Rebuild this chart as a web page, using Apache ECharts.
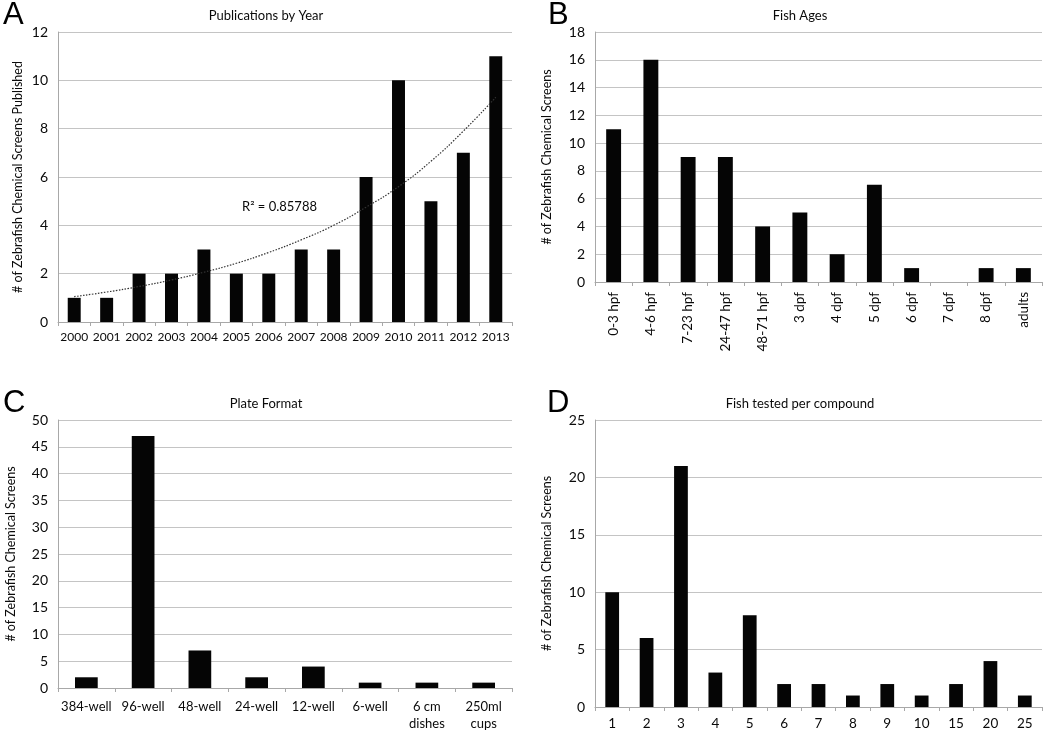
<!DOCTYPE html>
<html>
<head>
<meta charset="utf-8">
<script src="https://cdn.jsdelivr.net/npm/echarts@6/dist/echarts.min.js"></script>
<style>
  html, body { margin: 0; padding: 0; background: #fff; }
  #chart { width: 1050px; height: 732px; }
</style>
</head>
<body>
<div id="chart"></div>
<script>
// panel A - publications by year
const years = ['2000', '2001', '2002', '2003', '2004', '2005', '2006', '2007', '2008', '2009', '2010', '2011', '2012', '2013']
const pubCounts = [1, 1, 2, 2, 3, 2, 2, 3, 3, 6, 10, 5, 7, 11]
// exponential trendline
const pubTrend = [1.05, 1.24, 1.47, 1.74, 2.06, 2.43, 2.88, 3.4, 4.0, 4.75, 5.6, 6.65, 7.9, 9.3]

// panel B - fish ages
const ages = ['0-3 hpf', '4-6 hpf', '7-23 hpf', '24-47 hpf', '48-71 hpf', '3 dpf', '4 dpf', '5 dpf', '6 dpf', '7 dpf', '8 dpf', 'adults']
const ageCounts = [11, 16, 9, 9, 4, 5, 2, 7, 1, 0, 1, 1]

// panel C - plate format
const plates = ['384-well', '96-well', '48-well', '24-well', '12-well', '6-well', '6 cm\ndishes', '250ml\ncups']
const plateCounts = [2, 47, 7, 2, 4, 1, 1, 1]

// panel D - fish per compound
const fishPer = ['1', '2', '3', '4', '5', '6', '7', '8', '9', '10', '15', '20', '25']
const fishCounts = [10, 6, 21, 3, 8, 2, 2, 1, 2, 1, 2, 4, 1]

const FONT = 'Lato'
const INK = '#0a0a0a'
const yName = '# of Zebrafish Chemical Screens'

function xAxis(idx, data, label) {
  return {
    type: 'category',
    gridIndex: idx,
    data: data,
    axisLine: { lineStyle: { color: '#a8a8a8', width: 1 } },
    axisTick: { show: true, length: 4, lineStyle: { color: '#a8a8a8' } },
    axisLabel: Object.assign({ color: INK, fontFamily: FONT, fontSize: 12, margin: 9, interval: 0 }, label || {})
  }
}

function yAxis(idx, max, interval, name, gap) {
  return {
    type: 'value',
    gridIndex: idx,
    min: 0,
    max: max,
    interval: interval,
    name: name,
    nameLocation: 'middle',
    nameGap: gap,
    nameTextStyle: { color: INK, fontFamily: FONT, fontSize: 12.5 },
    axisLine: { show: true, lineStyle: { color: '#a8a8a8', width: 1 } },
    axisTick: { show: false },
    axisLabel: { color: INK, fontFamily: FONT, fontSize: 14, margin: 10 },
    splitLine: { lineStyle: { color: '#c4c4c4', width: 1 } }
  }
}

function bars(idx, values) {
  return {
    type: 'bar',
    xAxisIndex: idx,
    yAxisIndex: idx,
    data: values,
    barWidth: '40%',
    itemStyle: { color: '#050505' },
    silent: true
  }
}

function letter(txt, x, y) {
  return { text: txt, left: x, top: y, textStyle: { fontFamily: 'Liberation Sans', fontSize: 31, fontWeight: 'normal', color: '#000' } }
}

function heading(txt, cx, y) {
  return { text: txt, left: cx, top: y, textAlign: 'center', textStyle: { fontFamily: FONT, fontSize: 13, fontWeight: 'normal', color: INK } }
}

const chart = echarts.init(document.getElementById('chart'))
chart.setOption({
  animation: false,
  backgroundColor: '#fff',
  title: [
    letter('A', -2, -5),
    letter('B', 543, -5),
    letter('C', -2, 383),
    letter('D', 542, 383),
    heading('Publications by Year', 261, 4),
    heading('Fish Ages', 795, 4),
    heading('Plate Format', 261, 392),
    heading('Fish tested per compound', 795, 392)
  ],
  grid: [
    { left: 58, top: 32, width: 454, height: 290 },
    { left: 595, top: 32, width: 447, height: 250 },
    { left: 58, top: 420, width: 454, height: 270 },
    { left: 595, top: 420, width: 447, height: 287 }
  ],
  xAxis: [
    xAxis(0, years),
    xAxis(1, ages, { fontSize: 13.5, margin: 10, rotate: 90 }),
    xAxis(2, plates, { fontSize: 13, margin: 10, lineHeight: 17 }),
    xAxis(3, fishPer, { fontSize: 13.5, margin: 10 })
  ],
  yAxis: [
    yAxis(0, 12, 2, yName + ' Published', 34),
    yAxis(1, 18, 2, yName, 42),
    yAxis(2, 50, 5, yName, 41),
    yAxis(3, 25, 5, yName, 42)
  ],
  series: [
    bars(0, pubCounts),
    {
      type: 'line',
      xAxisIndex: 0,
      yAxisIndex: 0,
      data: pubTrend,
      smooth: true,
      symbol: 'none',
      silent: true,
      z: 5,
      lineStyle: { color: '#333', width: 1.2, type: [1.5, 1.5] }
    },
    bars(1, ageCounts),
    bars(2, plateCounts),
    bars(3, fishCounts)
  ],
  graphic: [
    {
      type: 'text',
      left: 242,
      top: 200,
      style: { text: 'R² = 0.85788', fontFamily: FONT, fontSize: 13, fill: INK }
    }
  ]
})
</script>
</body>
</html>
